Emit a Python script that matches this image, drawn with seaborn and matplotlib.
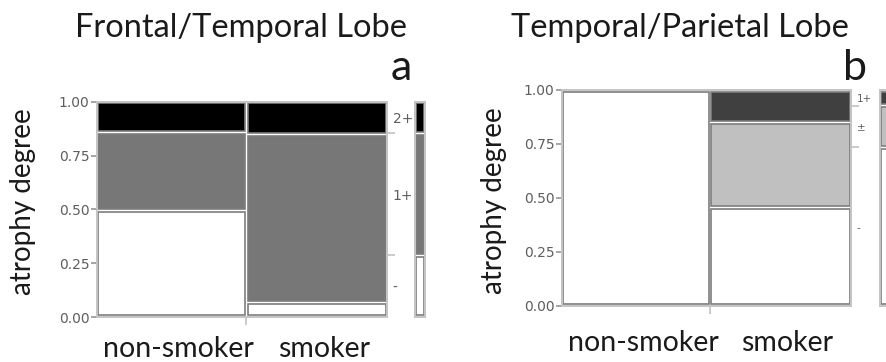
import numpy as np
import pandas as pd
import seaborn as sns
import matplotlib.pyplot as plt
from matplotlib.transforms import ScaledTranslation

groups = ["non-smoker", "smoker"]

# Frontal/Temporal lobe (column widths = share of subjects, stacks = share per degree)
ft_width = [0.514, 0.486]
ft_levels = ["-", "1+", "2+"]
ft_nonsmoker = [0.495, 0.363, 0.142]
ft_smoker = [0.068, 0.781, 0.151]
ft_colors = ["#ffffff", "#777777", "#000000"]

# Temporal/Parietal lobe
tp_width = [0.512, 0.488]
tp_levels = ["-", "±", "1+"]
tp_nonsmoker = [1.0, 0.0, 0.0]
tp_smoker = [0.457, 0.392, 0.151]
tp_colors = ["#ffffff", "#c0c0c0", "#404040"]

sns.set_theme(style="white")
plt.rcParams["font.family"] = ["DejaVu Sans"]

EDGE = "#7d7d7d"
FRAME = "#c4c4c4"
TICKC = "#5e5e5e"
BIG = ["Lato", "DejaVu Sans"]


def stack(ax, widths, cols, colors, gx=0.005, gy=0.007):
    left = 0.0
    for w, props in zip(widths, cols):
        bottom = 0.0
        for p, c in zip(props, colors):
            if p > 0:
                ax.bar(left + gx, p - 2 * gy, width=w - 2 * gx, bottom=bottom + gy,
                       align="edge", color=c, edgecolor=EDGE, linewidth=1.2)
            bottom += p
        left += w


def mosaic(fig, rect, bar_rect, widths, nonsmoker, smoker, levels, colors,
           right_fs, ylab_xy, xpad):
    df = pd.DataFrame({"non-smoker": nonsmoker, "smoker": smoker}, index=levels)
    ax = fig.add_axes(rect)
    stack(ax, widths, [df[g].values for g in groups], colors)
    ax.set_xlim(0, 1)
    ax.set_ylim(0, 1)

    edges = np.cumsum(widths)
    centers = edges - np.array(widths) / 2
    ax.set_xticks(edges[:-1])
    ax.set_xticklabels([])
    ax.set_xticks(centers, minor=True)
    ax.set_xticklabels(groups, minor=True, fontsize=20.5, family=BIG, color="#1a1a1a")
    ax.tick_params(axis="x", which="major", length=6, color=FRAME, bottom=True)
    ax.tick_params(axis="x", which="minor", length=0, pad=xpad, bottom=True)
    shift = ScaledTranslation(0.07, 0, fig.dpi_scale_trans)
    for lab in ax.get_xticklabels(minor=True):
        lab.set_transform(lab.get_transform() + shift)

    yt = [0, 0.25, 0.5, 0.75, 1]
    ax.set_yticks(yt, [f"{v:.2f}" for v in yt])
    ax.tick_params(axis="y", length=4, color="#999999", labelcolor=TICKC,
                   labelsize=10, pad=1.5, left=True)
    for s in ax.spines.values():
        s.set_color(FRAME)
        s.set_linewidth(1.4)
    ax.set_ylabel("atrophy degree", fontsize=20, family=BIG, color="#1a1a1a")
    ax.yaxis.set_label_coords(*ylab_xy)

    # marginal distribution of atrophy degree
    marg = df.mul(widths, axis=1).sum(axis=1).values
    cum = np.cumsum(marg)
    axr = ax.twinx()
    axr.set_ylim(0, 1)
    axr.set_yticks(cum[:-1])
    axr.set_yticklabels([])
    axr.set_yticks(cum - marg / 2, minor=True)
    axr.set_yticklabels(levels, minor=True, fontsize=right_fs, color=TICKC)
    axr.tick_params(axis="y", which="major", length=6, color=FRAME, right=True)
    axr.tick_params(axis="y", which="minor", length=0, pad=4, right=True)
    for s in axr.spines.values():
        s.set_visible(False)

    axm = fig.add_axes(bar_rect)
    stack(axm, [1.0], [marg], colors, gx=0.14, gy=0.007)
    axm.set_xlim(0, 1)
    axm.set_ylim(0, 1)
    axm.set_xticks([])
    axm.set_yticks([])
    for s in axm.spines.values():
        s.set_color(FRAME)
        s.set_linewidth(1.4)
    return ax


fig = plt.figure(figsize=(8.87, 3.62), dpi=100)

mosaic(fig, [0.1094, 0.1243, 0.3269, 0.5948], [0.4679, 0.1243, 0.0113, 0.5948],
       ft_width, ft_nonsmoker, ft_smoker, ft_levels, ft_colors, 10, (-0.21, 0.535), 14)
mosaic(fig, [0.6336, 0.1547, 0.3258, 0.5967], [0.9921, 0.1547, 0.0113, 0.5967],
       tp_width, tp_nonsmoker, tp_smoker, tp_levels, tp_colors, 7.5, (-0.19, 0.49), 17)

fig.text(241 / 887, 1 - 37 / 362, "Frontal/Temporal Lobe", ha="center",
         va="baseline", fontsize=23.5, family=BIG, color="#1a1a1a")
fig.text(401 / 887, 1 - 80 / 362, "a", ha="center", va="baseline",
         fontsize=31, family=BIG, color="#1a1a1a")
fig.text(680 / 887, 1 - 37 / 362, "Temporal/Parietal Lobe", ha="center",
         va="baseline", fontsize=23.5, family=BIG, color="#1a1a1a")
fig.text(855 / 887, 1 - 80 / 362, "b", ha="center", va="baseline",
         fontsize=31, family=BIG, color="#1a1a1a")

fig.savefig("out.png", dpi=100)
